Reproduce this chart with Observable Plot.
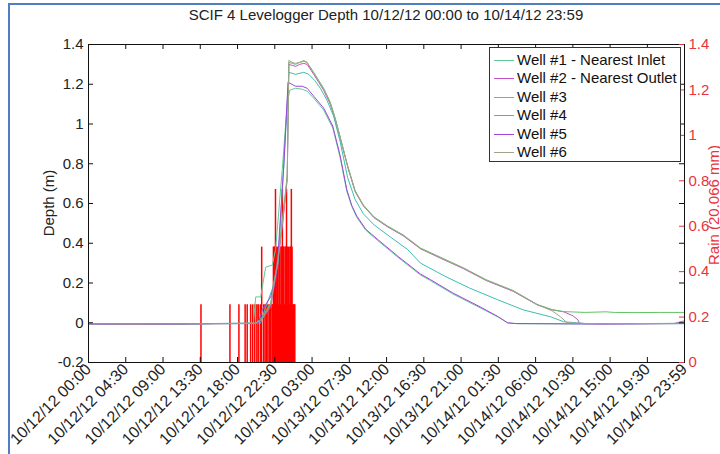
<!DOCTYPE html>
<html><head><meta charset="utf-8">
<script src="https://cdn.jsdelivr.net/npm/d3@7"></script>
<script src="https://cdn.jsdelivr.net/npm/@observablehq/plot@0.6"></script>
<style>
body{margin:0;background:#fff;font-family:"Liberation Sans",Arial,Helvetica,sans-serif;}
#wrap{position:relative;width:720px;height:454px;overflow:hidden;background:#fff;}
#wrap svg{position:absolute;left:0;top:0;}
.bl{position:absolute;background:#4f7fc2;}
.title{position:absolute;left:0;width:772px;top:6px;text-align:center;font-size:15px;color:#222;white-space:nowrap;}
.ylab{position:absolute;font-size:15px;white-space:nowrap;transform:translate(-50%,-50%) rotate(-90deg);}
.legend{position:absolute;left:489px;top:47px;width:192px;height:115px;border:1px solid #333;background:#fff;box-sizing:border-box;}
.row{position:absolute;left:0;height:18px;line-height:18px;font-size:15px;color:#111;white-space:nowrap;}
.sw{position:absolute;left:4px;top:9px;width:20px;height:0;border-top:1px solid;}
.lt{position:absolute;left:27px;top:0;}
</style></head><body><div id="wrap"></div>
<script>
// ---------- data ----------
const wellNames = ["Well #1 - Nearest Inlet","Well #2 - Nearest Outlet","Well #3","Well #4","Well #5","Well #6"];
const wellColors = ["#5fcc98","#c24fc8","#62c462","#3cbdb2","#a045dc","#a2a28c"];

// hours after 10/12/12 00:00, depth in m
const well1Hours = [0,5,10,15,19.9,20.2,20.8,21.4,22.2,22.6,23.4,24.0,24.3,25.0,25.8,26.4,27.2,28.4,29.5,30.4,31.2,31.8,32.4,33.5,34.9,37.5,40.1,41.3,44,47.3,49.5,50.7,52,60,66,72];
const well1Depth = [-0.006,-0.008,-0.007,-0.005,-0.004,0.13,0.13,0.28,0.29,0.37,0.77,1.1,1.17,1.18,1.175,1.165,1.13,1.07,0.98,0.83,0.66,0.585,0.53,0.465,0.415,0.325,0.24,0.212,0.145,0.075,0.028,-0.002,-0.005,-0.006,-0.005,-0.005];

const well2Hours = [0,5,10,15,20.2,21.0,22.0,22.8,23.5,24.0,24.2,24.6,25.0,25.5,26.0,26.4,27.2,27.8,28.4,29.2,29.8,30.3,31.3,32.2,33.2,34.5,36.1,38.0,40.1,42.5,45.3,48.0,51.3,54.2,56.0,57.4,58.5,59.1,59.3,62,66,70.7,72];
const well2Depth = [-0.005,-0.007,-0.006,-0.004,-0.003,0.02,0.08,0.28,0.52,0.72,1.3,1.295,1.29,1.3,1.305,1.3,1.25,1.21,1.17,1.10,1.02,0.945,0.785,0.66,0.588,0.528,0.483,0.438,0.372,0.325,0.272,0.213,0.158,0.09,0.065,0.055,0.035,0.015,-0.003,-0.006,-0.005,-0.004,0.01];

const well3Hours = [0,5,10,15,20.2,21.0,22.0,22.8,23.5,24.0,24.2,24.6,25.0,25.5,26.0,26.4,27.2,27.8,28.4,29.2,29.8,30.3,31.3,32.2,33.2,34.5,36.1,38.0,40.1,42.5,45.3,48.0,51.3,54.2,56.0,57.4,60,62.5,63.5,66,69,72];
const well3Depth = [-0.004,-0.006,-0.005,-0.004,-0.002,0.03,0.1,0.3,0.55,0.74,1.31,1.305,1.30,1.31,1.315,1.31,1.26,1.22,1.18,1.11,1.03,0.95,0.79,0.665,0.592,0.532,0.487,0.442,0.376,0.33,0.276,0.217,0.162,0.092,0.066,0.056,0.052,0.055,0.052,0.051,0.052,0.052];

const well4Hours = [0,5,10,15,20.8,21.0,22.2,22.9,23.6,24.2,25.0,26.0,26.6,27.3,28.0,28.8,29.6,30.4,31.3,32.2,33.2,34.5,36.5,38.5,40.1,43,46,49.4,52.5,55.8,57.4,60,66,72];
const well4Depth = [-0.005,-0.006,-0.006,-0.004,-0.002,0.03,0.17,0.30,0.8,1.26,1.25,1.26,1.25,1.22,1.18,1.12,1.04,0.91,0.73,0.62,0.548,0.492,0.43,0.37,0.30,0.235,0.175,0.116,0.065,0.03,0.005,-0.004,-0.005,-0.003];

const well5Hours = [0,5,10,15,20.5,21.0,22.0,22.6,22.9,23.6,24.1,25.0,25.8,26.4,27.2,28.4,29.5,30.4,31.2,31.8,32.4,33.5,34.9,37.5,40.1,41.3,44,47.3,49.5,50.6,51.6,60,66,72];
const well5Depth = [-0.006,-0.008,-0.007,-0.005,-0.004,0.066,0.13,0.22,0.35,0.8,1.21,1.19,1.19,1.18,1.14,1.08,0.99,0.84,0.67,0.59,0.537,0.47,0.42,0.33,0.245,0.217,0.15,0.08,0.03,0.0,-0.004,-0.006,-0.005,-0.004];

const well6Hours = [0,5,10,15,20.2,21.0,22.0,22.8,23.5,24.0,24.2,24.6,25.0,25.5,26.0,26.4,27.2,27.8,28.4,29.2,29.8,30.3,31.3,32.2,33.2,34.5,36.1,38.0,40.1,42.5,45.3,48.0,51.3,54.2,56.0,57.0,57.8,60,66,72];
const well6Depth = [-0.005,-0.007,-0.006,-0.005,-0.003,0.02,0.09,0.29,0.53,0.73,1.32,1.31,1.305,1.31,1.32,1.31,1.255,1.215,1.175,1.105,1.025,0.948,0.788,0.662,0.59,0.53,0.485,0.44,0.374,0.327,0.274,0.215,0.16,0.091,0.06,0.03,0.0,-0.004,-0.004,-0.003];

// rainfall per 5-minute interval (mm)
const rainTimes = ["10/12/12 13:35","10/12/12 17:05","10/12/12 18:10","10/12/12 18:55","10/12/12 19:10","10/12/12 19:35","10/12/12 19:50","10/12/12 20:05","10/12/12 20:20","10/12/12 20:30","10/12/12 20:45","10/12/12 20:55","10/12/12 21:10","10/12/12 21:20","10/12/12 21:30","10/12/12 21:40","10/12/12 21:50","10/12/12 22:00",
"10/12/12 22:10","10/12/12 22:15","10/12/12 22:20","10/12/12 22:25","10/12/12 22:30","10/12/12 22:35","10/12/12 22:40","10/12/12 22:45","10/12/12 22:50","10/12/12 22:55","10/12/12 23:00","10/12/12 23:05","10/12/12 23:10","10/12/12 23:15","10/12/12 23:20","10/12/12 23:25","10/12/12 23:30","10/12/12 23:35","10/12/12 23:40","10/12/12 23:45","10/12/12 23:50","10/12/12 23:55",
"10/13/12 00:00","10/13/12 00:05","10/13/12 00:10","10/13/12 00:15","10/13/12 00:20","10/13/12 00:25","10/13/12 00:30","10/13/12 00:35","10/13/12 00:40","10/13/12 00:45","10/13/12 00:50","10/13/12 00:55"];
const rainMm = [0.254,0.254,0.254,0.254,0.254,0.254,0.254,0.254,0.254,0.254,0.254,0.508,0.254,0.254,0.254,0.254,0.254,0.254,
0.254,0.254,0.508,0.508,0.508,0.762,0.508,0.254,0.508,0.254,0.508,0.508,0.254,0.508,0.508,0.762,0.508,0.508,0.254,0.508,0.508,0.762,
0.508,0.254,0.508,0.254,0.508,0.508,0.762,0.508,0.254,0.254,0.254,0.254];

const xTickLabels = ["10/12/12 00:00","10/12/12 04:30","10/12/12 09:00","10/12/12 13:30","10/12/12 18:00","10/12/12 22:30","10/13/12 03:00","10/13/12 07:30","10/13/12 12:00","10/13/12 16:30","10/13/12 21:00","10/14/12 01:30","10/14/12 06:00","10/14/12 10:30","10/14/12 15:00","10/14/12 19:30","10/14/12 23:59"];
const yTicks = [-0.2,0,0.2,0.4,0.6,0.8,1,1.2,1.4];
const yTickLabels = ["-0.2","0","0.2","0.4","0.6","0.8","1","1.2","1.4"];
const rainTicks = [0,0.2,0.4,0.6,0.8,1,1.2,1.4];
const rainTickLabels = ["0","0.2","0.4","0.6","0.8","1","1.2","1.4"];

// ---------- build ----------
const parse = d3.utcParse("%m/%d/%y %H:%M");
const t0 = parse("10/12/12 00:00");
const tEnd = parse("10/14/12 23:59");
const atHour = h => new Date(+t0 + h * 3600e3);
const xTicks = xTickLabels.map(parse);

const wells = [[well1Hours,well1Depth],[well2Hours,well2Depth],[well3Hours,well3Depth],[well4Hours,well4Depth],[well5Hours,well5Depth],[well6Hours,well6Depth]];
const lineData = [];
wells.forEach(([hs, ds], i) => hs.forEach((h, j) => lineData.push({well: wellNames[i], t: atHour(h), d: ds[j]})));

const yMin = -0.2, yMax = 1.4, rainMax = 1.4;
const rainToY = r => yMin + r * (yMax - yMin) / rainMax;
const rainData = rainTimes.map((s, i) => ({t: parse(s), y: rainToY(rainMm[i])}));
const rainTickY = rainTicks.map(rainToY);

const W = 720, H = 454, mT = 44, mB = 92, mL = 88, mR = 36;
const fw = W - mL - mR, fh = H - mT - mB, tl = 5;
const red = "#e8343c";
const FS = 15;

const chart = Plot.plot({
  width: W, height: H, marginTop: mT, marginBottom: mB, marginLeft: mL, marginRight: mR,
  style: {fontFamily: "'Liberation Sans', Arial, Helvetica, sans-serif", fontSize: FS + "px", background: "transparent", color: "#222"},
  x: {type: "utc", domain: [t0, tEnd], axis: null},
  y: {domain: [yMin, yMax], axis: null},
  color: {domain: wellNames, range: wellColors},
  marks: [
    Plot.ruleX(rainData, {x: "t", y1: rainToY(0), y2: "y", stroke: "#ff0000", strokeWidth: 1.5}),
    Plot.line(lineData, {x: "t", y: "d", z: "well", stroke: "well", strokeWidth: 1}),
    Plot.frame({stroke: "#111"}),
    // inward ticks
    Plot.ruleX(xTicks, {x: d => d, insetTop: fh - tl, stroke: "#111"}),
    Plot.ruleX(xTicks, {x: d => d, insetBottom: fh - tl, stroke: "#111"}),
    Plot.ruleY(yTicks, {y: d => d, insetRight: fw - tl, stroke: "#111"}),
    Plot.ruleY(yTicks, {y: d => d, insetLeft: fw - tl, stroke: "#111"}),
    Plot.ruleY(rainTickY, {y: d => d, insetLeft: fw - tl, stroke: red}),
    // labels
    Plot.axisY(yTicks, {anchor: "left", tickSize: 0, tickPadding: 5, label: null, fontSize: FS, tickFormat: d => yTickLabels[yTicks.indexOf(d)]}),
    Plot.axisY(rainTickY, {anchor: "right", tickSize: 0, tickPadding: 4, label: null, fontSize: FS, fill: red, tickFormat: d => rainTickLabels[rainTickY.indexOf(d)]}),
    Plot.axisX(xTicks, {anchor: "bottom", tickSize: 0, tickPadding: 4, tickRotate: -45, label: null, fontSize: 16, tickFormat: d => xTickLabels[xTicks.findIndex(x => +x === +d)]})
  ]
});

const wrap = document.getElementById("wrap");
wrap.appendChild(chart);

function add(cls, style, text) {
  const el = document.createElement("div");
  el.className = cls;
  Object.assign(el.style, style);
  if (text != null) el.textContent = text;
  wrap.appendChild(el);
  return el;
}
add("bl", {left: "8px", top: "3px", width: "2px", height: "451px"});
add("bl", {left: "8px", top: "3px", width: "712px", height: "2px"});
add("title", {}, "SCIF 4 Levelogger Depth 10/12/12 00:00 to 10/14/12 23:59");
add("ylab", {left: "48px", top: (mT + fh / 2) + "px", color: "#222"}, "Depth (m)");
add("ylab", {left: "713px", top: (mT + fh / 2 + 2) + "px", color: red}, "Rain (20.066 mm)");

const lg = add("legend", {});
wellNames.forEach((n, i) => {
  const r = document.createElement("div");
  r.className = "row";
  r.style.top = Math.round(3 + i * 18.4) + "px";
  const sw = document.createElement("div");
  sw.className = "sw"; sw.style.borderTopColor = wellColors[i];
  const tx = document.createElement("div");
  tx.className = "lt"; tx.textContent = n;
  r.appendChild(sw); r.appendChild(tx);
  lg.appendChild(r);
});
</script></body></html>
